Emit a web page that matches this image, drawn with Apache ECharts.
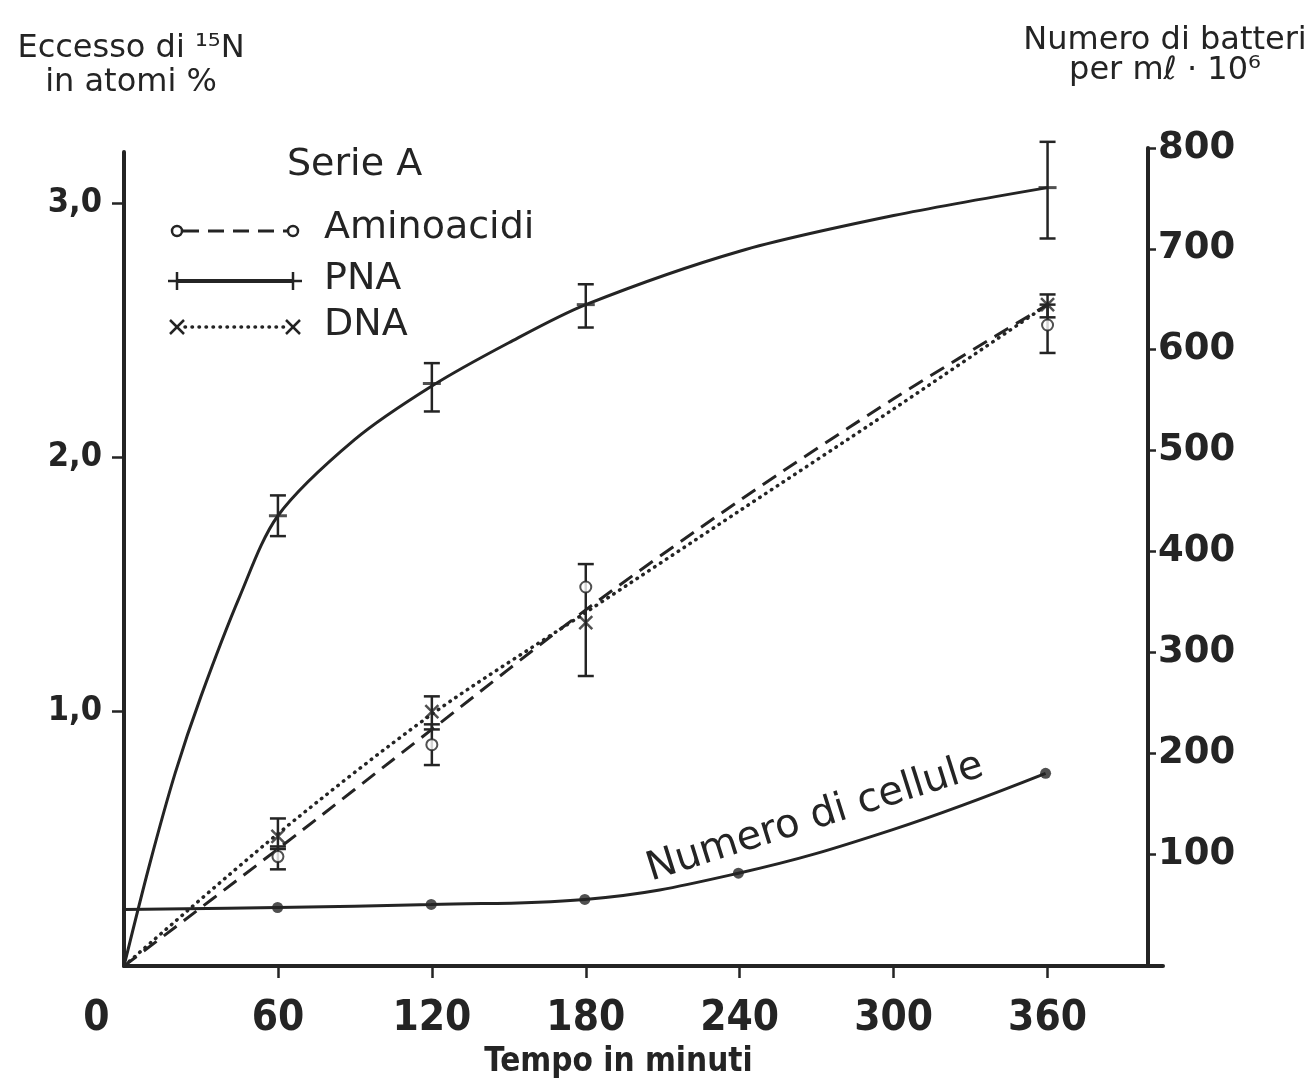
<!DOCTYPE html>
<html><head><meta charset="utf-8">
<script src="https://cdn.jsdelivr.net/npm/echarts@6/dist/echarts.min.js"></script>
<style>html,body{margin:0;padding:0;background:#fff}#c{width:1316px;height:1086px}</style>
</head><body><div id="c"></div>
<script>
// ---- tick values ----
const xTickValues = [60, 120, 180, 240, 300, 360];
const xLabelValues = [0, 60, 120, 180, 240, 300, 360];
const leftTickValues = [1, 2, 3];
const rightTickValues = [100, 200, 300, 400, 500, 600, 700, 800];

// ---- fitted curves ----
const pnaCurveT = [0, 10, 20, 30, 45, 60, 90, 120, 150, 180, 240, 300, 360];
const pnaCurveV = [0, 0.40, 0.76, 1.06, 1.45, 1.77, 2.07, 2.28, 2.45, 2.6, 2.81, 2.95, 3.06];
const aminoCurveT = [0, 60, 120, 180, 240, 300, 360];
const aminoCurveV = [0, 0.46, 0.93, 1.40, 1.83, 2.23, 2.60];
const dnaCurveT = [0, 60, 120, 180, 240, 300, 360];
const dnaCurveV = [0, 0.52, 0.99, 1.39, 1.79, 2.19, 2.60];
const cellCurveT = [0, 60, 120, 180, 240, 300, 360];
const cellCurveV = [45, 47, 50, 55, 81, 124, 180];

// ---- measured points and error bars ----
const pointT = [60, 120, 180, 360];
const aminoPoint = [0.43, 0.87, 1.49, 2.52];
const aminoLow = [0.38, 0.79, null, 2.41];
const aminoHigh = [0.47, 0.95, null, 2.60];
const pnaPoint = [1.77, 2.29, 2.60, 3.06];
const pnaLow = [1.69, 2.18, 2.51, 2.86];
const pnaHigh = [1.85, 2.37, 2.68, 3.24];
const dnaPoint = [0.51, 1.00, 1.35, 2.60];
const dnaLow = [0.46, 0.93, 1.14, 2.55];
const dnaHigh = [0.58, 1.06, 1.58, 2.64];
const cellPointT = [60, 120, 180, 240, 360];
const cellPoint = [47, 50, 55, 81, 180];

const INK = '#242424';
const zip = (a, b) => a.map((v, i) => [v, b[i]]);
const errData = (lo, hi) => pointT.map((t, i) => [t, lo[i], hi[i]]).filter(d => d[1] != null);

function errBar(params, api) {
  const x = api.value(0), lo = api.value(1), hi = api.value(2);
  const p1 = api.coord([x, lo]), p2 = api.coord([x, hi]);
  const w = 8, st = { stroke: INK, lineWidth: 2.5 };
  return { type: 'group', children: [
    { type: 'line', shape: { x1: p1[0], y1: p1[1], x2: p2[0], y2: p2[1] }, style: st },
    { type: 'line', shape: { x1: p1[0] - w, y1: p1[1], x2: p1[0] + w, y2: p1[1] }, style: st },
    { type: 'line', shape: { x1: p2[0] - w, y1: p2[1], x2: p2[0] + w, y2: p2[1] }, style: st }
  ]};
}

const DASH = [16, 9];
const DOT = [0.5, 6.5];

// legend graphics
function legendRow(y, kind) {
  const els = [];
  const xl = 177, xr = 293;
  const st = { stroke: INK, lineWidth: 2.5 };
  if (kind === 'amino') {
    els.push({ type: 'line', shape: { x1: xl + 6, y1: y, x2: xr - 6, y2: y }, style: { stroke: INK, lineWidth: 3, lineDash: DASH } });
    els.push({ type: 'circle', shape: { cx: xl, cy: y, r: 5 }, style: { stroke: INK, lineWidth: 2.5, fill: '#fff' } });
    els.push({ type: 'circle', shape: { cx: xr, cy: y, r: 5 }, style: { stroke: INK, lineWidth: 2.5, fill: '#fff' } });
  } else if (kind === 'pna') {
    els.push({ type: 'line', shape: { x1: xl, y1: y, x2: xr, y2: y }, style: { stroke: INK, lineWidth: 4 } });
    [xl, xr].forEach(x => {
      els.push({ type: 'line', shape: { x1: x - 9, y1: y, x2: x + 9, y2: y }, style: st });
      els.push({ type: 'line', shape: { x1: x, y1: y - 9, x2: x, y2: y + 9 }, style: st });
    });
  } else {
    els.push({ type: 'line', shape: { x1: xl + 8, y1: y, x2: xr - 8, y2: y }, style: { stroke: INK, lineWidth: 3.5, lineDash: DOT, lineCap: 'round' } });
    [xl, xr].forEach(x => {
      els.push({ type: 'line', shape: { x1: x - 7, y1: y - 7, x2: x + 7, y2: y + 7 }, style: st });
      els.push({ type: 'line', shape: { x1: x - 7, y1: y + 7, x2: x + 7, y2: y - 7 }, style: st });
    });
  }
  return els;
}
const legendFont = { fontFamily: 'DejaVu Sans', fontSize: 38, fill: INK };

const chart = echarts.init(document.getElementById('c'), null, { renderer: 'canvas' });
chart.setOption({
  backgroundColor: '#ffffff',
  animation: false,
  grid: [
    { left: 124, right: 153, top: 152, bottom: 120 },
    { left: 124, right: 168, top: 148, bottom: 120 }
  ],
  xAxis: [
    {
      type: 'value', gridIndex: 0, min: 0, max: 405,
      axisLine: { lineStyle: { color: INK, width: 4 } },
      axisTick: { show: true, length: 12, customValues: xTickValues, lineStyle: { color: INK, width: 2.5 } },
      axisLabel: {
        customValues: xLabelValues, margin: 32,
        fontFamily: 'DejaVu Sans Condensed', fontWeight: 'bold', fontSize: 42, color: INK,
        formatter: v => v === 0 ? '{z|0}' : String(v),
        rich: { z: { fontFamily: 'DejaVu Sans Condensed', fontWeight: 'bold', fontSize: 42, color: INK, padding: [0, 55, 0, 0] } }
      },
      splitLine: { show: false },
      name: 'Tempo in minuti', nameLocation: 'middle', nameGap: 80,
      nameTextStyle: { fontFamily: 'DejaVu Sans Condensed', fontWeight: 'bold', fontSize: 33, color: INK, padding: [0, 50, 0, 0] }
    },
    { type: 'value', gridIndex: 1, min: 0, max: 400, show: false }
  ],
  yAxis: [
    {
      type: 'value', gridIndex: 0, min: 0, max: 3.2, position: 'left',
      axisLine: { show: true, onZero: false, lineStyle: { color: INK, width: 4 } },
      axisTick: { show: true, length: 12, customValues: leftTickValues, lineStyle: { color: INK, width: 2.5 } },
      axisLabel: {
        customValues: leftTickValues, margin: 22,
        fontFamily: 'DejaVu Sans Condensed', fontWeight: 'bold', fontSize: 34, color: INK,
        formatter: v => v.toFixed(1).replace('.', ',')
      },
      splitLine: { show: false },
      name: 'Eccesso di ¹⁵N\nin atomi %', nameLocation: 'end', nameGap: 52,
      nameTextStyle: { fontFamily: 'DejaVu Sans', fontSize: 32, color: INK, align: 'center', verticalAlign: 'bottom', lineHeight: 34, padding: [0, 0, 0, 14] }
    },
    {
      type: 'value', gridIndex: 1, min: -11, max: 800, position: 'right',
      axisLine: { show: true, onZero: false, lineStyle: { color: INK, width: 4 } },
      axisTick: { show: true, length: 8, customValues: rightTickValues, lineStyle: { color: INK, width: 2.5 } },
      axisLabel: {
        customValues: rightTickValues, margin: 10,
        fontFamily: 'DejaVu Sans', fontWeight: 'bold', fontSize: 37, color: INK
      },
      splitLine: { show: false },
      name: 'Numero di batteri\nper mℓ · 10⁶', nameLocation: 'end', nameGap: 62,
      nameTextStyle: { fontFamily: 'DejaVu Sans', fontSize: 32, color: INK, align: 'center', verticalAlign: 'bottom', lineHeight: 30, padding: [0, 0, 0, 34] }
    }
  ],
  series: [
    { name: 'PNA', type: 'line', xAxisIndex: 0, yAxisIndex: 0, data: zip(pnaCurveT, pnaCurveV), smooth: 0.3, showSymbol: false, lineStyle: { color: INK, width: 3 }, z: 3 },
    { name: 'Aminoacidi', type: 'line', xAxisIndex: 0, yAxisIndex: 0, data: zip(aminoCurveT, aminoCurveV), smooth: 0.3, showSymbol: false, lineStyle: { color: INK, width: 3, type: DASH }, z: 3 },
    { name: 'DNA', type: 'line', xAxisIndex: 0, yAxisIndex: 0, data: zip(dnaCurveT, dnaCurveV), smooth: 0.3, showSymbol: false, lineStyle: { color: INK, width: 3.5, type: DOT, cap: 'round' }, z: 3 },
    { name: 'Numero di cellule', type: 'line', xAxisIndex: 1, yAxisIndex: 1, data: zip(cellCurveT, cellCurveV), smooth: 0.4, showSymbol: false, lineStyle: { color: INK, width: 3 }, z: 3 },

    { type: 'custom', xAxisIndex: 0, yAxisIndex: 0, renderItem: errBar, data: errData(pnaLow, pnaHigh), encode: { x: 0, y: [1, 2] }, z: 4 },
    { type: 'custom', xAxisIndex: 0, yAxisIndex: 0, renderItem: errBar, data: errData(aminoLow, aminoHigh), encode: { x: 0, y: [1, 2] }, z: 4 },
    { type: 'custom', xAxisIndex: 0, yAxisIndex: 0, renderItem: errBar, data: errData(dnaLow, dnaHigh), encode: { x: 0, y: [1, 2] }, z: 4 },

    { type: 'scatter', xAxisIndex: 0, yAxisIndex: 0, data: zip(pointT, pnaPoint), symbol: 'rect', symbolSize: [18, 3], itemStyle: { color: INK }, z: 5 },
    { type: 'scatter', xAxisIndex: 0, yAxisIndex: 0, data: zip(pointT, aminoPoint), symbol: 'emptyCircle', symbolSize: 11, itemStyle: { color: INK, borderColor: INK, borderWidth: 2.5 }, z: 6 },
    { type: 'scatter', xAxisIndex: 0, yAxisIndex: 0, data: zip(pointT, dnaPoint), symbol: 'path://M0,0L10,10M10,0L0,10', symbolSize: 13, itemStyle: { color: 'transparent', borderColor: INK, borderWidth: 2.5 }, z: 5 },
    { type: 'scatter', xAxisIndex: 1, yAxisIndex: 1, data: zip(cellPointT, cellPoint), symbol: 'circle', symbolSize: 11, itemStyle: { color: INK }, z: 5 }
  ],
  graphic: [
    { type: 'text', left: 287, top: 146, style: Object.assign({ text: 'Serie A' }, legendFont) },
    ...legendRow(231, 'amino'), ...legendRow(281, 'pna'), ...legendRow(327, 'dna'),
    { type: 'text', x: 324, y: 228, style: Object.assign({ text: 'Aminoacidi', verticalAlign: 'middle' }, legendFont) },
    { type: 'text', x: 324, y: 279, style: Object.assign({ text: 'PNA', verticalAlign: 'middle' }, legendFont) },
    { type: 'text', x: 324, y: 325, style: Object.assign({ text: 'DNA', verticalAlign: 'middle' }, legendFont) },
    { type: 'text', x: 815, y: 818, rotation: 17.5 * Math.PI / 180, style: { text: 'Numero di cellule', fontFamily: 'DejaVu Sans', fontSize: 40, fill: INK, align: 'center', verticalAlign: 'middle' } }
  ]
});
</script></body></html>
